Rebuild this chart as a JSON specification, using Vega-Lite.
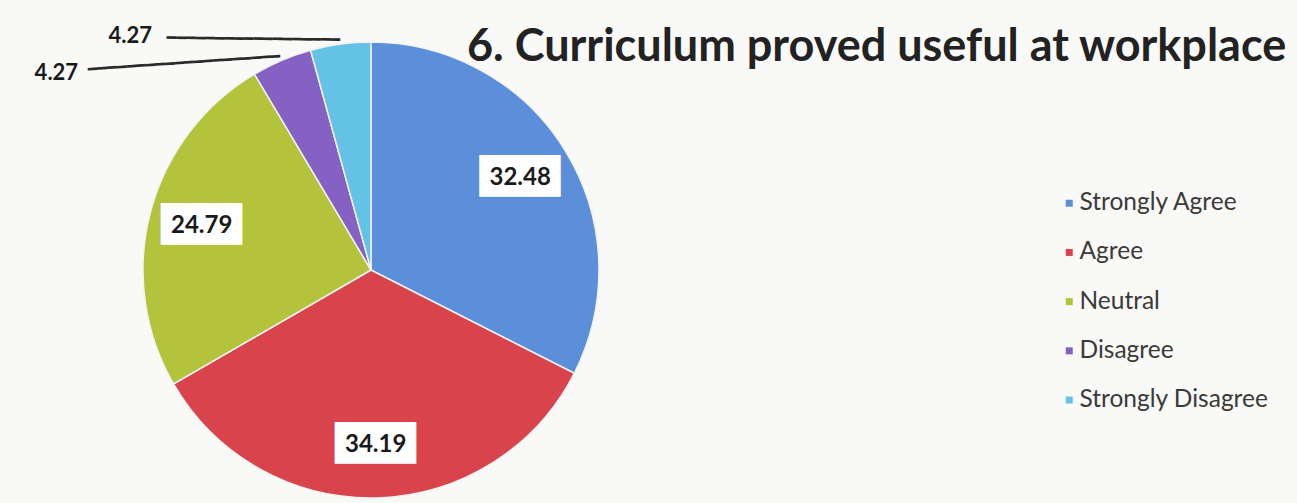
{
  "$schema": "https://vega.github.io/schema/vega-lite/v6.json",
  "width": 742,
  "height": 466,
  "autosize": {"type": "none"},
  "padding": {"left": 0, "top": 37, "right": 555, "bottom": 0},
  "background": "#f9f9f7",
  "title": {
    "text": "6. Curriculum proved useful at workplace",
    "anchor": "start",
    "frame": "group",
    "dx": 467,
    "dy": 81,
    "offset": 0,
    "baseline": "alphabetic",
    "font": "Lato",
    "fontSize": 45,
    "fontWeight": "bold",
    "color": "#222222"
  },
  "data": {
    "values": [
      {"cat": "Strongly Agree", "value": 32.48, "rank": 1},
      {"cat": "Agree", "value": 34.19, "rank": 2},
      {"cat": "Neutral", "value": 24.79, "rank": 3},
      {"cat": "Disagree", "value": 4.27, "rank": 4},
      {"cat": "Strongly Disagree", "value": 4.27, "rank": 5}
    ]
  },
  "encoding": {
    "theta": {"field": "value", "type": "quantitative", "stack": true},
    "order": {"field": "rank", "type": "quantitative"}
  },
  "layer": [
    {
      "mark": {"type": "arc", "outerRadius": 228, "stroke": "#f2f2f2", "strokeWidth": 1.5},
      "encoding": {
        "color": {
          "field": "cat",
          "type": "nominal",
          "scale": {
            "domain": ["Strongly Agree", "Agree", "Neutral", "Disagree", "Strongly Disagree"],
            "range": ["#5B8FD9", "#D9434C", "#B3C43C", "#8461C2", "#64C2E6"]
          },
          "legend": {
            "orient": "none",
            "legendX": 1057,
            "legendY": 154,
            "title": null,
            "symbolType": "square",
            "symbolSize": 49,
            "symbolStrokeWidth": 0,
            "labelFont": "Lato",
            "labelFontSize": 24.5,
            "labelColor": "#3a3a3a",
            "labelLimit": 0,
            "rowPadding": 24.2,
            "labelOffset": -2,
            "padding": 0
          }
        }
      }
    },
    {
      "mark": {"type": "text", "radius": 175, "font": "DejaVu Sans", "fontSize": 35, "color": "#ffffff", "dy": -1},
      "encoding": {
        "detail": {"field": "cat"},
        "text": {"condition": {"test": "datum.value > 10", "value": "███"}, "value": ""}
      }
    },
    {
      "mark": {"type": "text", "radius": 175, "font": "Lato", "fontSize": 24, "fontWeight": "bold", "color": "#1a1a1a"},
      "encoding": {
        "detail": {"field": "cat"},
        "text": {"condition": {"test": "datum.value > 10", "field": "value", "format": ".2f"}, "value": ""}
      }
    },
    {
      "mark": {"type": "text", "radius": 232, "font": "DejaVu Sans", "fontSize": 16, "color": "#2a2a2a", "align": "right", "angle": 0.65},
      "encoding": {
        "detail": {"field": "cat"},
        "text": {"condition": {"test": "datum.cat == 'Strongly Disagree'", "value": "━━━━━━━━━━━━━━━━━━"}, "value": ""}
      }
    },
    {
      "mark": {"type": "text", "radius": 232, "font": "DejaVu Sans", "fontSize": 16, "color": "#2a2a2a", "align": "right", "angle": -3.9},
      "encoding": {
        "detail": {"field": "cat"},
        "text": {"condition": {"test": "datum.cat == 'Disagree'", "value": "━━━━━━━━━━━━━━━━━━━━"}, "value": ""}
      }
    },
    {
      "mark": {"type": "text", "radius": 232, "font": "Lato", "fontSize": 22, "fontWeight": "bold", "color": "#1a1a1a", "align": "right", "dx": -188, "dy": -4},
      "encoding": {
        "detail": {"field": "cat"},
        "text": {"condition": {"test": "datum.cat == 'Strongly Disagree'", "field": "value", "format": ".2f"}, "value": ""}
      }
    },
    {
      "mark": {"type": "text", "radius": 232, "font": "Lato", "fontSize": 22, "fontWeight": "bold", "color": "#1a1a1a", "align": "right", "dx": -202, "dy": 16},
      "encoding": {
        "detail": {"field": "cat"},
        "text": {"condition": {"test": "datum.cat == 'Disagree'", "field": "value", "format": ".2f"}, "value": ""}
      }
    }
  ]
}
